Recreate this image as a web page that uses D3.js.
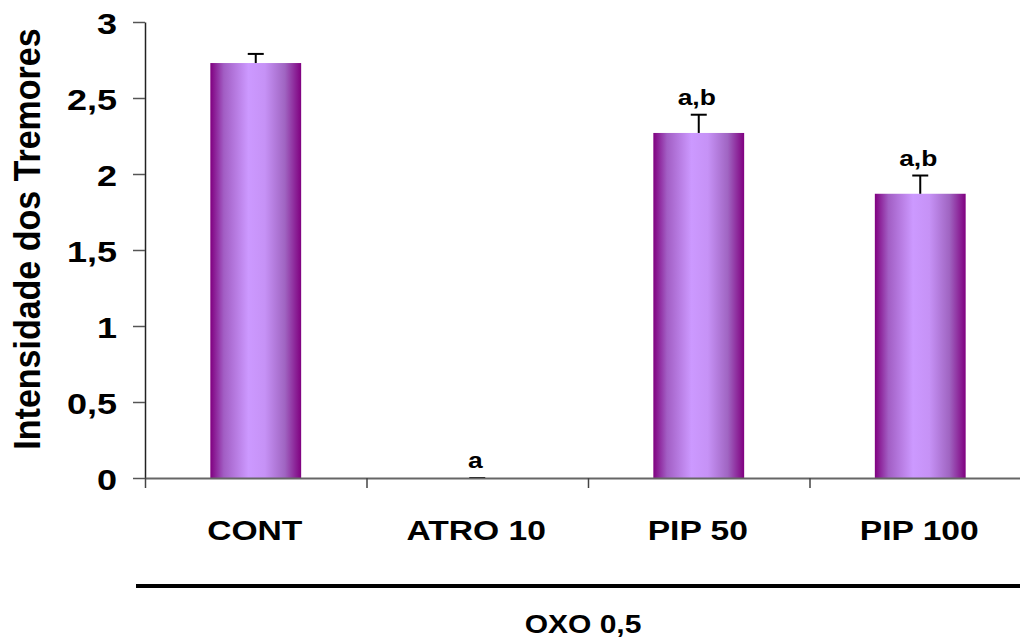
<!DOCTYPE html>
<html lang="en">
<head>
	<meta charset="utf-8">
	<title>Intensidade dos Tremores</title>
	<style>
		body { margin: 0; background: #fff; }
		text { font-family: "Liberation Sans", Arial, sans-serif; font-weight: bold; fill: #000; }
	</style>
	<script src="https://cdn.jsdelivr.net/npm/d3@7"></script>
</head>
<body>
	<script>
		var groups = ["CONT", "ATRO 10", "PIP 50", "PIP 100"];
		var means = [2.73, 0, 2.27, 1.87];
		var errors = [0.06, 0, 0.12, 0.12];
		var marks = ["", "a", "a,b", "a,b"];
		var yTicks = [0, 0.5, 1, 1.5, 2, 2.5, 3];

		var w = 1020, h = 641;
		var plotLeft = 145, plotRight = 1031, plotTop = 22, plotBottom = 478;
		var sx = 1.2; // text in the picture is a bit wider than tall

		var svg = d3.select("body").append("svg")
			.attr("width", w)
			.attr("height", h);

		var grad = svg.append("defs").append("linearGradient")
			.attr("id", "barFill")
			.attr("x1", "0%").attr("x2", "100%")
			.attr("y1", "0%").attr("y2", "0%");
		[[0, "#800080"], [0.15, "#a25ec4"], [0.42, "#cc99ff"], [0.6, "#c692f6"], [0.82, "#a065c2"], [1, "#800080"]]
			.forEach(s => grad.append("stop").attr("offset", s[0]).attr("stop-color", s[1]));

		var x = d3.scaleBand()
			.domain(groups)
			.range([plotLeft, plotRight])
			.paddingInner(0.59)
			.paddingOuter(0.295);
		var xEdges = d3.scaleLinear().domain([0, groups.length]).range([plotLeft, plotRight]);
		var y = d3.scaleLinear().domain([0, 3]).range([plotBottom, plotTop]);

		// bars
		svg.selectAll("rect.bar")
			.data(means)
			.enter()
			.append("rect")
			.attr("class", "bar")
			.attr("x", (_, i) => x(groups[i]))
			.attr("y", d => y(d))
			.attr("width", x.bandwidth())
			.attr("height", d => plotBottom - y(d))
			.attr("fill", "url(#barFill)");

		// error bars (upper only)
		var cap = 8;
		var eb = svg.append("g").attr("stroke", "#000").attr("stroke-width", 2);
		means.forEach((m, i) => {
			var cx = x(groups[i]) + x.bandwidth() / 2;
			eb.append("line")
				.attr("x1", cx).attr("x2", cx)
				.attr("y1", y(m)).attr("y2", y(m + errors[i]));
			eb.append("line")
				.attr("x1", cx - cap).attr("x2", cx + cap)
				.attr("y1", y(m + errors[i])).attr("y2", y(m + errors[i]));
		});

		// significance letters
		svg.selectAll("text.mark")
			.data(marks)
			.enter()
			.append("text")
			.attr("class", "mark")
			.attr("text-anchor", "middle")
			.attr("font-size", "22px")
			.attr("transform", (_, i) => "translate(" + (x(groups[i]) + x.bandwidth() / 2 - 2) + "," + (y(means[i] + errors[i]) - 10) + ") scale(" + sx + ",1)")
			.text(d => d);

		// y axis
		var yAxis = d3.axisLeft(y)
			.tickValues(yTicks)
			.tickSizeInner(12)
			.tickSizeOuter(0)
			.tickFormat(d => String(d).replace(".", ","));
		var gy = svg.append("g")
			.attr("transform", "translate(" + plotLeft + ",0)")
			.call(yAxis);
		gy.select(".domain").attr("stroke", "#222").attr("stroke-width", 1.5);
		gy.selectAll(".tick line").attr("stroke", "#555").attr("stroke-width", 1.5);
		gy.selectAll(".tick text")
			.attr("x", null).attr("dy", null)
			.attr("font-size", "30px")
			.attr("text-anchor", "end")
			.attr("font-family", null)
			.attr("transform", "translate(-28,11) scale(" + sx + ",1)");

		// x axis with ticks between the groups
		var xAxis = d3.axisBottom(xEdges)
			.tickValues(d3.range(groups.length + 1))
			.tickSizeInner(10)
			.tickSizeOuter(0)
			.tickFormat("");
		var gx = svg.append("g")
			.attr("transform", "translate(0," + plotBottom + ")")
			.call(xAxis);
		gx.select(".domain").attr("stroke", "#666").attr("stroke-width", 2);
		gx.selectAll(".tick line").attr("stroke", "#444").attr("stroke-width", 1.5);

		svg.selectAll("text.cat")
			.data(groups)
			.enter()
			.append("text")
			.attr("class", "cat")
			.attr("text-anchor", "middle")
			.attr("font-size", "28px")
			.attr("transform", d => "translate(" + (x(d) + x.bandwidth() / 2 - 1) + ",540) scale(" + sx + ",1)")
			.text(d => d);

		// y title
		svg.append("text")
			.attr("text-anchor", "middle")
			.attr("font-size", "34px")
			.attr("transform", "translate(40,239) rotate(-90) scale(1,1.1)")
			.text("Intensidade dos Tremores");

		// treatment bracket
		svg.append("line")
			.attr("x1", 136).attr("x2", w)
			.attr("y1", 586).attr("y2", 586)
			.attr("stroke", "#000")
			.attr("stroke-width", 4);
		svg.append("text")
			.attr("text-anchor", "middle")
			.attr("font-size", "25px")
			.attr("transform", "translate(583,633) scale(" + sx + ",1)")
			.text("OXO 0,5");
	</script>
</body>
</html>
